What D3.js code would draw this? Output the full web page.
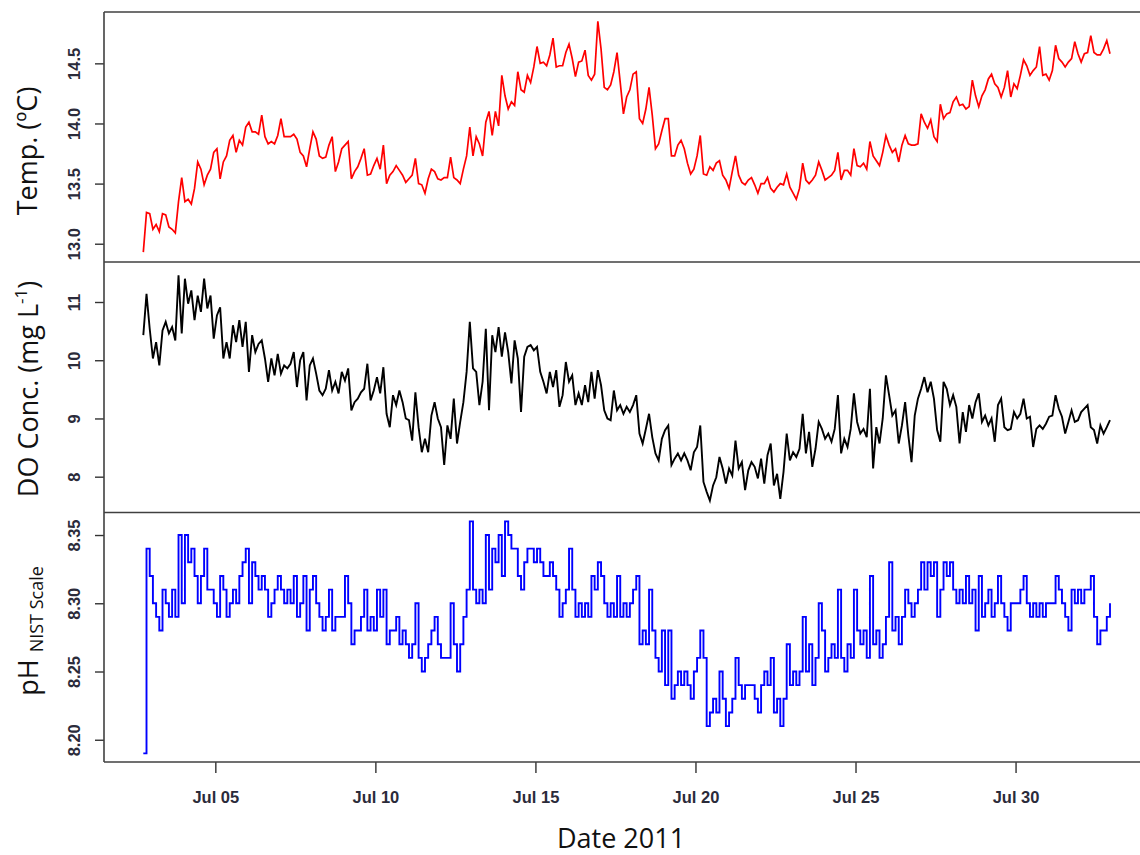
<!DOCTYPE html>
<html><head><meta charset="utf-8">
<script src="https://cdn.jsdelivr.net/npm/d3@7"></script>
<style>body{margin:0;background:#fff;} svg{display:block}</style>
</head><body>
<svg id="chart" width="1140" height="855"></svg>
<script>
// sampling of the logger record (day of July 2011, UTC) and step in days
const startDay = 2.75;
const stepDays = 0.1;

const tempValues = [
12.93,13.26,13.25,13.12,13.16,13.10,13.25,13.24,13.14,13.12,
13.09,13.35,13.55,13.35,13.37,13.33,13.46,13.68,13.62,13.49,
13.57,13.62,13.76,13.79,13.54,13.68,13.73,13.86,13.90,13.76,
13.86,13.82,13.97,14.01,13.93,13.93,13.91,14.07,13.89,13.83,
13.85,13.83,13.90,14.04,13.89,13.89,13.89,13.91,13.87,13.76,
13.73,13.64,13.79,13.93,13.87,13.73,13.71,13.72,13.82,13.89,
13.60,13.68,13.79,13.82,13.85,13.54,13.60,13.64,13.71,13.79,
13.57,13.58,13.65,13.71,13.62,13.82,13.50,13.57,13.60,13.65,
13.61,13.57,13.51,13.54,13.57,13.71,13.50,13.49,13.42,13.54,
13.62,13.60,13.54,13.53,13.55,13.55,13.72,13.55,13.53,13.50,
13.62,13.73,13.97,13.73,13.89,13.83,13.73,14.01,14.10,13.90,
14.10,13.98,14.40,14.23,14.12,14.18,14.15,14.43,14.28,14.26,
14.40,14.34,14.47,14.64,14.50,14.51,14.48,14.57,14.71,14.47,
14.48,14.48,14.59,14.66,14.54,14.39,14.51,14.52,14.61,14.40,
14.36,14.41,14.85,14.62,14.30,14.28,14.32,14.43,14.59,14.34,
14.08,14.22,14.28,14.41,14.43,14.04,14.00,14.12,14.30,14.07,
13.79,13.83,13.94,14.04,14.04,13.73,13.73,13.82,13.86,13.79,
13.67,13.58,13.62,13.73,13.90,13.58,13.57,13.64,13.61,13.67,
13.69,13.57,13.53,13.46,13.60,13.73,13.57,13.51,13.49,13.53,
13.55,13.49,13.42,13.50,13.50,13.55,13.46,13.43,13.47,13.50,
13.49,13.58,13.47,13.42,13.37,13.46,13.67,13.53,13.50,13.53,
13.57,13.68,13.61,13.53,13.55,13.57,13.61,13.76,13.53,13.61,
13.61,13.57,13.79,13.65,13.64,13.67,13.62,13.85,13.73,13.69,
13.65,13.76,13.90,13.82,13.76,13.79,13.68,13.82,13.90,13.83,
13.82,13.82,13.83,14.08,14.01,13.96,14.03,13.89,13.85,14.16,
14.04,14.08,14.09,14.18,14.22,14.15,14.16,14.12,14.14,14.36,
14.23,14.14,14.23,14.28,14.37,14.41,14.33,14.30,14.22,14.30,
14.44,14.22,14.33,14.29,14.40,14.53,14.48,14.40,14.44,14.47,
14.64,14.40,14.41,14.36,14.44,14.65,14.54,14.51,14.47,14.51,
14.54,14.68,14.58,14.51,14.58,14.59,14.73,14.59,14.57,14.57,
14.62,14.69,14.58
];

const doValues = [
10.43,11.14,10.54,10.03,10.31,9.91,10.51,10.66,10.46,10.57,
10.34,11.46,10.46,11.40,10.97,11.20,10.69,11.11,10.83,11.40,
10.89,11.11,10.37,10.77,10.91,10.03,10.31,10.03,10.60,10.31,
10.69,10.23,10.66,9.80,10.43,10.14,10.28,10.34,10.03,9.63,
10.03,9.74,10.11,9.77,9.91,9.86,9.94,10.14,9.54,10.00,
10.14,9.31,9.91,10.03,9.77,9.48,9.40,9.51,9.83,9.48,
9.63,9.43,9.80,9.65,9.86,9.14,9.28,9.34,9.45,9.51,
9.94,9.31,9.48,9.71,9.43,9.88,9.08,8.85,9.40,9.23,
9.48,9.28,9.00,8.97,8.62,9.45,8.85,8.42,8.65,8.42,
9.05,9.28,9.00,8.85,8.20,8.88,8.65,9.34,8.57,8.94,
9.28,9.80,10.66,9.86,9.80,9.23,9.63,10.54,9.14,10.43,
10.14,10.57,10.06,10.48,10.14,9.60,10.34,10.03,9.11,10.06,
10.23,10.26,10.17,10.23,9.80,9.63,9.43,9.80,9.54,9.83,
9.20,9.40,9.97,9.63,9.74,9.23,9.43,9.23,9.57,9.28,
9.80,9.34,9.83,9.57,9.14,9.00,8.97,9.48,9.14,9.23,
9.08,9.20,9.11,9.23,9.40,8.74,8.57,8.82,9.08,8.68,
8.40,8.28,8.65,8.80,8.88,8.20,8.31,8.40,8.28,8.40,
8.28,8.11,8.42,8.51,8.88,7.91,7.74,7.59,7.85,7.99,
8.34,8.14,7.88,8.14,8.02,8.62,8.14,8.25,7.77,8.11,
8.25,8.17,7.97,8.31,7.88,8.37,8.57,7.85,8.05,7.62,
8.08,8.74,8.28,8.42,8.34,8.48,9.08,8.40,8.77,8.17,
8.48,8.94,8.82,8.65,8.74,8.60,8.82,9.40,8.40,8.65,
8.51,8.82,9.43,8.94,8.74,8.82,8.68,9.51,8.14,8.85,
8.57,9.00,9.74,9.40,9.05,9.14,8.57,8.88,9.28,8.71,
8.25,9.05,9.34,9.51,9.71,9.45,9.63,9.34,8.80,8.60,
9.63,9.51,9.23,9.40,9.20,8.57,9.11,8.77,9.23,9.00,
9.28,9.43,8.94,9.05,8.88,9.00,8.60,9.23,9.34,8.85,
8.80,8.82,9.11,9.00,9.08,9.34,9.00,9.03,8.51,8.82,
8.88,8.82,8.91,9.03,9.05,9.40,9.17,9.03,8.74,8.94,
9.14,8.94,8.97,9.11,9.17,9.23,8.85,8.80,8.57,8.88,
8.74,8.85,8.97
];

const phValues = [
8.19,8.34,8.32,8.30,8.29,8.28,8.31,8.30,8.29,8.31,
8.29,8.35,8.30,8.35,8.33,8.34,8.32,8.30,8.32,8.34,
8.31,8.31,8.30,8.29,8.32,8.31,8.29,8.30,8.31,8.30,
8.32,8.33,8.34,8.30,8.33,8.32,8.31,8.32,8.31,8.29,
8.30,8.31,8.32,8.31,8.30,8.31,8.30,8.32,8.29,8.30,
8.32,8.28,8.31,8.32,8.30,8.29,8.28,8.29,8.31,8.28,
8.29,8.29,8.29,8.32,8.30,8.27,8.28,8.28,8.29,8.31,
8.28,8.29,8.28,8.31,8.29,8.31,8.27,8.28,8.28,8.29,
8.27,8.28,8.27,8.26,8.27,8.30,8.26,8.25,8.26,8.27,
8.28,8.29,8.27,8.26,8.26,8.26,8.30,8.27,8.25,8.27,
8.29,8.31,8.36,8.31,8.30,8.31,8.30,8.35,8.31,8.34,
8.33,8.35,8.32,8.36,8.35,8.34,8.34,8.32,8.31,8.33,
8.34,8.34,8.33,8.34,8.33,8.32,8.32,8.33,8.32,8.31,
8.29,8.30,8.31,8.34,8.31,8.29,8.30,8.29,8.30,8.29,
8.32,8.31,8.33,8.32,8.30,8.29,8.30,8.29,8.32,8.29,
8.30,8.29,8.30,8.31,8.32,8.27,8.28,8.27,8.31,8.28,
8.26,8.25,8.28,8.24,8.28,8.23,8.24,8.25,8.24,8.25,
8.24,8.23,8.25,8.26,8.28,8.26,8.21,8.22,8.23,8.22,
8.25,8.23,8.21,8.22,8.23,8.26,8.24,8.23,8.24,8.24,
8.24,8.23,8.22,8.24,8.25,8.24,8.26,8.22,8.23,8.21,
8.23,8.27,8.24,8.25,8.24,8.25,8.29,8.25,8.27,8.24,
8.26,8.30,8.28,8.25,8.26,8.27,8.26,8.31,8.26,8.25,
8.27,8.26,8.31,8.28,8.27,8.28,8.26,8.32,8.27,8.28,
8.26,8.27,8.29,8.33,8.28,8.29,8.27,8.29,8.31,8.30,
8.29,8.30,8.31,8.33,8.31,8.33,8.32,8.33,8.29,8.31,
8.33,8.32,8.33,8.31,8.30,8.31,8.30,8.32,8.30,8.31,
8.28,8.32,8.29,8.30,8.31,8.29,8.30,8.32,8.30,8.29,
8.28,8.30,8.30,8.30,8.31,8.32,8.30,8.29,8.30,8.29,
8.30,8.29,8.30,8.30,8.30,8.32,8.31,8.30,8.29,8.28,
8.31,8.30,8.31,8.30,8.31,8.31,8.32,8.29,8.27,8.28,
8.28,8.29,8.30
];

const xTickDays = [5, 10, 15, 20, 25, 30];
const tempTicks = [13.0, 13.5, 14.0, 14.5];
const doTicks = [8, 9, 10, 11];
const phTicks = [8.20, 8.25, 8.30, 8.35];

const dayToDate = d => new Date(Date.UTC(2011, 6, 1) + (d - 1) * 864e5);
const times = tempValues.map((_, i) => dayToDate(startDay + i * stepDays));

const svg = d3.select("#chart");
const left = 104, right = 1150;
const x = d3.scaleUtc().domain([dayToDate(1.522), dayToDate(34.2)]).range([left, right]);

const panels = [
  {id:"t", values: tempValues, domain:[12.848, 14.927], top:12, bottom:262, ticks:tempTicks, fmt:d3.format(".1f"), color:"#ff0000", curve:d3.curveLinear, width:1.7},
  {id:"o", values: doValues, domain:[7.385, 11.687], top:262, bottom:512.5, ticks:doTicks, fmt:d3.format("d"), color:"#000000", curve:d3.curveLinear, width:1.9},
  {id:"p", values: phValues, domain:[8.1837, 8.3665], top:512.5, bottom:762, ticks:phTicks, fmt:d3.format(".2f"), color:"#0000ff", curve:d3.curveStepAfter, width:1.9}
];

const tickFont = "'Liberation Sans', Arial, sans-serif";
const defs = svg.append("defs");
panels.forEach(p => {
  const y = d3.scaleLinear().domain(p.domain).range([p.bottom, p.top]);
  defs.append("clipPath").attr("id", "clip-" + p.id)
    .append("rect").attr("x", left).attr("y", p.top).attr("width", right - left).attr("height", p.bottom - p.top);
  const line = d3.line().x((d, i) => x(times[i])).y(d => y(d)).curve(p.curve);
  svg.append("path").datum(p.values)
    .attr("clip-path", "url(#clip-" + p.id + ")")
    .attr("d", line).attr("fill", "none").attr("stroke", p.color)
    .attr("stroke-width", p.width).attr("stroke-linejoin", "miter");

  const ax = svg.append("g").attr("transform", `translate(${left},0)`)
    .call(d3.axisLeft(y).tickValues(p.ticks).tickSize(9).tickFormat(p.fmt));
  ax.select(".domain").remove();
  ax.selectAll(".tick line").attr("stroke", "#333").attr("stroke-width", 1.4);
  ax.selectAll(".tick text")
    .attr("x", null).attr("dy", null).attr("text-anchor", "middle")
    .attr("transform", "translate(-24,0) rotate(-90)")
    .attr("fill", "#2b2b3a").style("font-family", tickFont).style("font-size", "16.5px").style("font-weight", "bold");
});

// x axis
const xa = svg.append("g").attr("transform", "translate(0,762)")
  .call(d3.axisBottom(x).tickValues(xTickDays.map(dayToDate)).tickSize(11).tickFormat(d3.utcFormat("%b %d")));
xa.select(".domain").remove();
xa.selectAll(".tick line").attr("stroke", "#333").attr("stroke-width", 1.4);
xa.selectAll(".tick text").attr("y", 41).attr("dy", null)
  .attr("fill", "#2b2b3a").style("font-family", tickFont).style("font-size", "16.5px").style("font-weight", "bold");

// frame
const frame = svg.append("g").attr("stroke", "#404040").attr("stroke-width", 1.6).attr("fill", "none");
[12, 262, 512.5, 762].forEach(yy => frame.append("line").attr("x1", left).attr("x2", right).attr("y1", yy).attr("y2", yy));
frame.append("line").attr("x1", left).attr("x2", left).attr("y1", 12).attr("y2", 762);

// titles
const titleFont = "'Open Sans', 'Noto Sans', sans-serif";
svg.append("text").attr("x", 621).attr("y", 848).attr("text-anchor", "middle")
  .style("font-family", titleFont).style("font-size", "27px").attr("fill", "#111").text("Date 2011");

svg.append("text").attr("transform", "translate(37,151) rotate(-90)").attr("text-anchor", "middle")
  .style("font-family", titleFont).style("font-size", "27px").attr("fill", "#111").text("Temp. (ºC)");

const doT = svg.append("text").attr("transform", "translate(38,389) rotate(-90)").attr("text-anchor", "middle")
  .style("font-family", titleFont).style("font-size", "27px").attr("fill", "#111");
doT.append("tspan").text("DO Conc. (mg L");
doT.append("tspan").attr("dy", -11).style("font-size", "17px").text("-1");
doT.append("tspan").attr("dy", 11).text(")");

const phT = svg.append("text").attr("transform", "translate(38,631) rotate(-90)").attr("text-anchor", "middle")
  .style("font-family", titleFont).style("font-size", "27px").attr("fill", "#111");
phT.append("tspan").text("pH ");
phT.append("tspan").attr("dy", 5).style("font-size", "18px").text("NIST Scale");
</script>
</body></html>
